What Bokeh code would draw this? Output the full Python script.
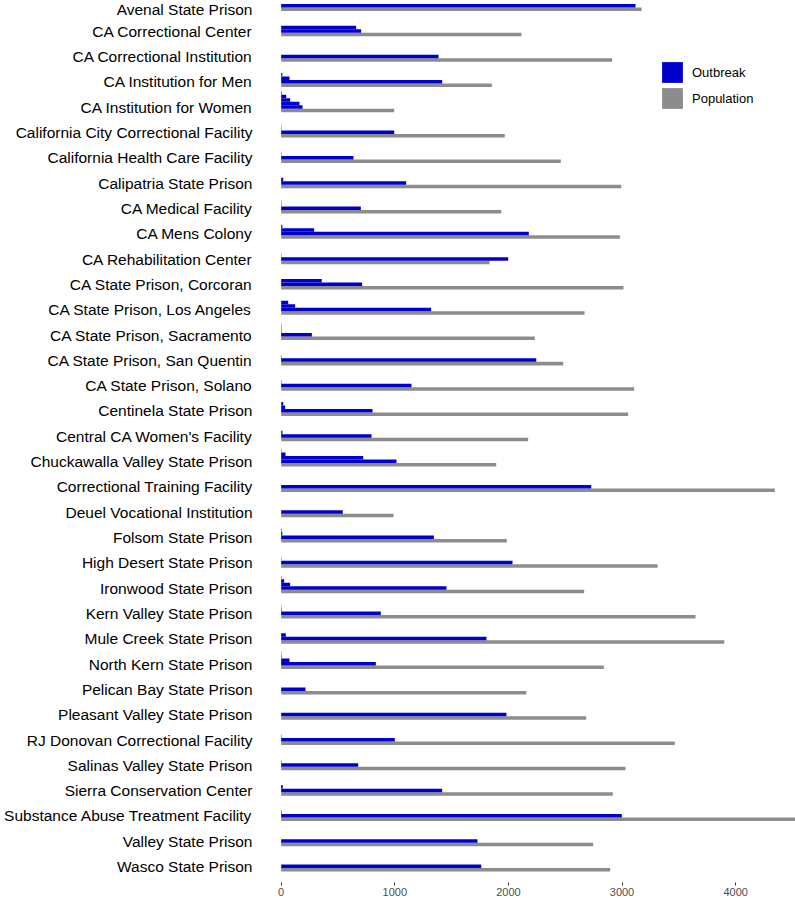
from bokeh.plotting import figure
from bokeh.models import Range1d, FixedTicker, Legend, LegendItem, ColumnDataSource
from bokeh.embed import file_html
from bokeh.resources import INLINE

prisons = [
    "Avenal State Prison", "CA Correctional Center", "CA Correctional Institution",
    "CA Institution for Men", "CA Institution for Women",
    "California City Correctional Facility", "California Health Care Facility",
    "Calipatria State Prison", "CA Medical Facility", "CA Mens Colony",
    "CA Rehabilitation Center", "CA State Prison, Corcoran",
    "CA State Prison, Los Angeles", "CA State Prison, Sacramento",
    "CA State Prison, San Quentin", "CA State Prison, Solano",
    "Centinela State Prison", "Central CA Women's Facility",
    "Chuckawalla Valley State Prison", "Correctional Training Facility",
    "Deuel Vocational Institution", "Folsom State Prison",
    "High Desert State Prison", "Ironwood State Prison",
    "Kern Valley State Prison", "Mule Creek State Prison",
    "North Kern State Prison", "Pelican Bay State Prison",
    "Pleasant Valley State Prison", "RJ Donovan Correctional Facility",
    "Salinas Valley State Prison", "Sierra Conservation Center",
    "Substance Abuse Treatment Facility", "Valley State Prison",
    "Wasco State Prison",
]

population = [3172, 2115, 2913, 1854, 995, 1968, 2461, 2993, 1937, 2981,
              1834, 3013, 2670, 2232, 2482, 3107, 3054, 2174, 1893, 4345,
              989, 1986, 3313, 2667, 3647, 3900, 2840, 2157, 2685, 3465,
              3031, 2919, 4540, 2746, 2896]

outbreaks = [
    [3119],
    [660, 704],
    [1385],
    [10, 73, 1417],
    [5, 44, 79, 161, 188],
    [2, 3, 995],
    [3, 636],
    [18, 1100],
    [2, 3, 701],
    [10, 290, 2180],
    [3, 1998],
    [357, 713],
    [62, 123, 1320],
    [2, 3, 4, 270],
    [3, 2245],
    [3, 1147],
    [18, 35, 804],
    [11, 795],
    [3, 38, 722, 1015],
    [2729],
    [542],
    [4, 10, 1344],
    [3, 2036],
    [3, 26, 79, 1455],
    [2, 4, 877],
    [41, 1807],
    [2, 4, 73, 833],
    [214],
    [1983],
    [3, 1000],
    [3, 678],
    [14, 1417],
    [4, 2998],
    [1728],
    [1761],
]

x_ticks = [0, 1000, 2000, 3000, 4000]

BLUE = "#0000CD"
GREY = "#8C8C8C"
FONT = "Liberation Sans"

PX = 25.28
BAR_H = 3.5 / PX
GREY_OFF = 3.25 / PX
BLUE_OFF = -0.25 / PX

n = len(prisons)
grey_src = ColumnDataSource(dict(
    y=[i + GREY_OFF for i in range(n)],
    v=population,
))
by, bv = [], []
for i, vals in enumerate(outbreaks):
    for k, v in enumerate(sorted(vals, reverse=True)):
        by.append(i + BLUE_OFF - k * BAR_H)
        bv.append(v)
blue_src = ColumnDataSource(dict(y=by, v=bv))

p = figure(width=795, height=898,
           x_range=Range1d(-6, 4527), y_range=Range1d(34.63, -0.219),
           output_backend="svg", toolbar_location=None,
           min_border_left=280, min_border_right=0,
           min_border_top=0, min_border_bottom=0)

rg = p.hbar(y="y", height=BAR_H, left=0, right="v", source=grey_src,
            fill_color=GREY, line_color=None)
rb = p.hbar(y="y", height=BAR_H, left=0, right="v", source=blue_src,
            fill_color=BLUE, line_color=None)

p.outline_line_color = None
p.xgrid.visible = False
p.ygrid.visible = False
p.background_fill_color = "white"

xa = p.xaxis[0]
xa.ticker = FixedTicker(ticks=x_ticks)
xa.axis_line_color = None
xa.minor_tick_line_color = None
xa.major_tick_line_color = "#333333"
xa.major_tick_out = 3
xa.major_tick_in = 0
xa.major_label_text_font = FONT
xa.major_label_text_font_size = "11px"
xa.major_label_text_color = "#4d4d4d"
xa.major_label_standoff = 2

ya = p.yaxis[0]
ya.ticker = FixedTicker(ticks=list(range(n)))
ya.major_label_overrides = {i: name for i, name in enumerate(prisons)}
ya.axis_line_color = None
ya.major_tick_line_color = None
ya.minor_tick_line_color = None
ya.major_label_text_font = FONT
ya.major_label_text_font_size = "15.5px"
ya.major_label_text_color = "#000000"
ya.major_label_standoff = 22

legend = Legend(
    items=[LegendItem(label="Outbreak", renderers=[rb]),
           LegendItem(label="Population", renderers=[rg])],
    location=(379, 771),
    glyph_width=26, glyph_height=26, spacing=-3,
    padding=0, margin=0, border_line_color=None,
    background_fill_alpha=0,
    label_text_font=FONT, label_text_font_size="13px",
    label_text_color="#000000",
    label_standoff=7, label_height=26,
)
p.add_layout(legend)

open("out.html", "w").write(file_html(p, INLINE))
